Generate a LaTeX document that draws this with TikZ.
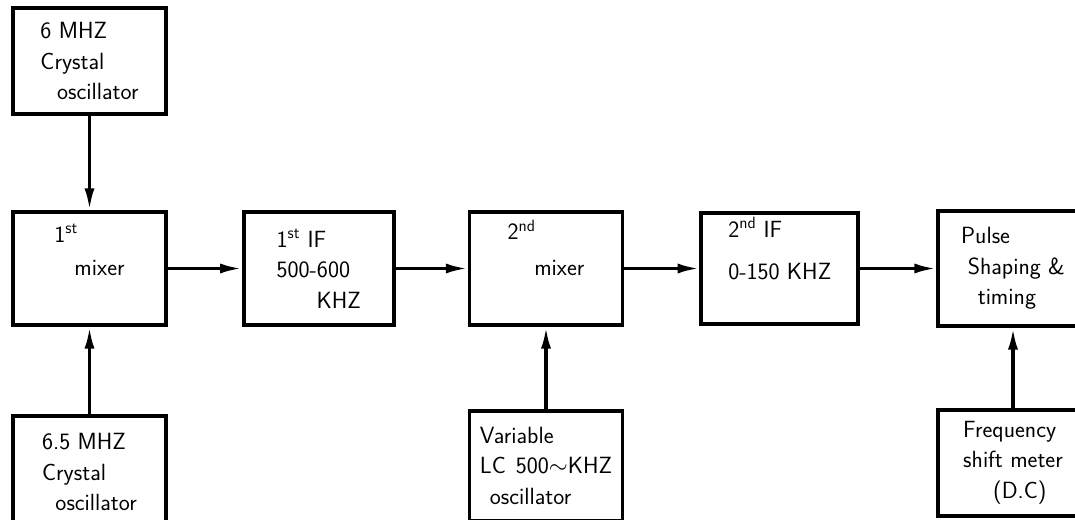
\documentclass[tikz,border=0pt]{standalone}
\usepackage{tikz}
\usetikzlibrary{arrows.meta,positioning}

\begin{document}
\begin{tikzpicture}[
    node distance=2.6cm and 2.22cm,
    blk/.style={rectangle, draw=black, line width=3.2pt, align=left, minimum width=4.59cm, minimum height=3.39cm, font=\sffamily\fontsize{20}{26}\selectfont},
    arr/.style={-{Latex[length=6.5mm, width=3mm]}, line width=2.8pt}
]
\useasboundingbox (0,0) rectangle (32.25,-15.6);

% main chain
\node[blk] (mixa) at (2.685,-8.055) {1\textsuperscript{st}\\[2pt]\hspace{6mm}mixer\\[6pt]};
\node[blk, minimum width=4.5cm, right=2.22cm of mixa] (ifa) {1\textsuperscript{st} IF\\[0pt]500-600\\\hspace{12mm}KHZ};
\node[blk, right=2.16cm of ifa] (mixb) {2\textsuperscript{nd}\\[4pt]\hspace{8mm}mixer\\[10pt]};
\node[blk, minimum width=4.71cm, minimum height=3.33cm, right=2.25cm of mixb] (ifb) {2\textsuperscript{nd} IF\\[10pt]0-150 KHZ\\[8pt]};
\node[blk, minimum width=4.5cm, minimum height=3.45cm, right=2.28cm of ifb] (pulse) {Pulse\\\hspace{2mm}Shaping \&\\\hspace{5mm}timing};

% oscillators
\node[blk, minimum height=3.18cm, above=2.82cm of mixa] (xtala) {6 MHZ\\Crystal\\\hspace{5mm}oscillator};
\node[blk, minimum height=3.4cm, below=2.61cm of mixa] (xtalb) {6.5 MHZ\\Crystal\\\hspace{4mm}oscillator};
\node[blk, minimum height=3.3cm, below=2.46cm of mixb] (vco) {Variable\\LC\hspace{3mm}500$\sim$KHZ\\\hspace{3mm}oscillator};
\node[blk, minimum width=4.5cm, minimum height=3.18cm, below=2.4cm of pulse] (meter) {Frequency\\shift meter\\\hspace{9mm}(D.C)};

\draw[arr] (xtala) -- (mixa);
\draw[arr] (xtalb) -- (mixa);
\draw[arr] (mixa) -- (ifa);
\draw[arr] (ifa) -- (mixb);
\draw[arr] (vco) -- (mixb);
\draw[arr] (mixb) -- (ifb);
\draw[arr] (ifb) -- (pulse);
\draw[arr] (meter) -- (pulse);
\end{tikzpicture}
\end{document}
